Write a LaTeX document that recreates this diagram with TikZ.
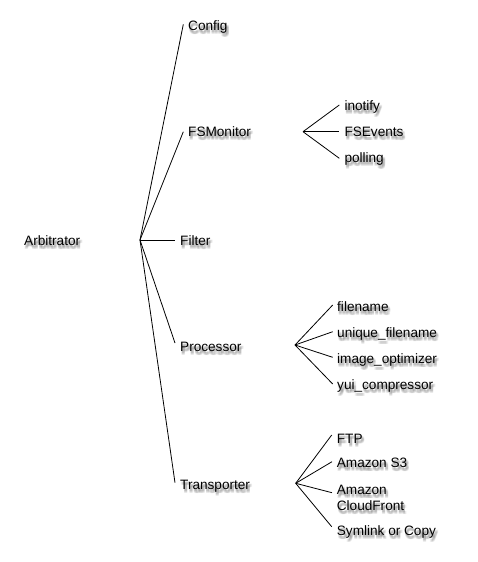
\documentclass[tikz,border=0pt]{standalone}
\usepackage{fontspec}
\setmainfont{Liberation Sans}
\newcommand\lbl[3]{%
  \foreach \dx/\dy in {0.5/2,1.5/2,2.5/2,0.5/3,1.5/3,2.5/3,0.5/4,1.5/4,2.5/4}{%
    \node[lbl,opacity=0.07] at ([shift={(\dx,\dy)}]#2) {\begin{tabular}[t]{@{}l@{}}#3\end{tabular}};}%
  \node[lbl] (#1) at (#2) {\begin{tabular}[t]{@{}l@{}}#3\end{tabular}};}
\begin{document}
\begin{tikzpicture}[x=1pt,y=-1pt,
  lbl/.style={anchor=base west, inner sep=0pt, font=\fontsize{13.6}{16}\selectfont},
  edge/.style={line width=0.8pt, black}]
\useasboundingbox (0,0) rectangle (478,562);
\fill[white] (0,0) rectangle (478,562);

\lbl{arb}{24,245}{Arbitrator}
\lbl{config}{188,30}{Config}
\lbl{fsm}{188,136}{FSMonitor}
\lbl{filter}{180,245.5}{Filter}
\lbl{proc}{180,351}{Processor}
\lbl{trans}{180,489}{Transporter}
\lbl{inotify}{344.3,110.5}{inotify}
\lbl{fsevents}{344.3,136.5}{FSEvents}
\lbl{polling}{344.3,162.5}{polling}
\lbl{filename}{337,311}{filename}
\lbl{unique}{337,337}{unique\_filename}
\lbl{imgopt}{337,363}{image\_optimizer}
\lbl{yui}{337,389}{yui\_compressor}
\lbl{ftp}{336.7,443}{FTP}
\lbl{s3}{336.7,467}{Amazon S3}
\lbl{cf}{336.7,494}{Amazon\\CloudFront}
\lbl{sym}{336.7,535}{Symlink or Copy}

\coordinate (rootfork) at (140,240);
\coordinate (fsfork) at (303,131.7);
\coordinate (procfork) at (295,345);
\coordinate (transfork) at (295.7,483.3);

\draw[edge] (rootfork) -- ([shift={(-4.7,-5.7)}]config.base west);
\draw[edge] (rootfork) -- ([shift={(-4.7,-4.3)}]fsm.base west);
\draw[edge] (rootfork) -- ([shift={(-5,-5.5)}]filter.base west);
\draw[edge] (rootfork) -- ([shift={(-5,-8)}]proc.base west);
\draw[edge] (rootfork) -- ([shift={(-5,-6.3)}]trans.base west);

\draw[edge] (fsfork) -- ([shift={(-5,-5.5)}]inotify.base west);
\draw[edge] (fsfork) -- ([shift={(-5,-4.8)}]fsevents.base west);
\draw[edge] (fsfork) -- ([shift={(-5,-4.2)}]polling.base west);

\draw[edge] (procfork) -- ([shift={(-4.3,-6)}]filename.base west);
\draw[edge] (procfork) -- ([shift={(-4.3,-5.3)}]unique.base west);
\draw[edge] (procfork) -- ([shift={(-4.3,-5.7)}]imgopt.base west);
\draw[edge] (procfork) -- ([shift={(-4.3,-5)}]yui.base west);

\draw[edge] (transfork) -- ([shift={(-5,-8)}]ftp.base west);
\draw[edge] (transfork) -- ([shift={(-4.7,-5.3)}]s3.base west);
\draw[edge] (transfork) -- ([shift={(-4.7,-1.3)}]cf.base west);
\draw[edge] (transfork) -- ([shift={(-5,-8.3)}]sym.base west);
\end{tikzpicture}
\end{document}
